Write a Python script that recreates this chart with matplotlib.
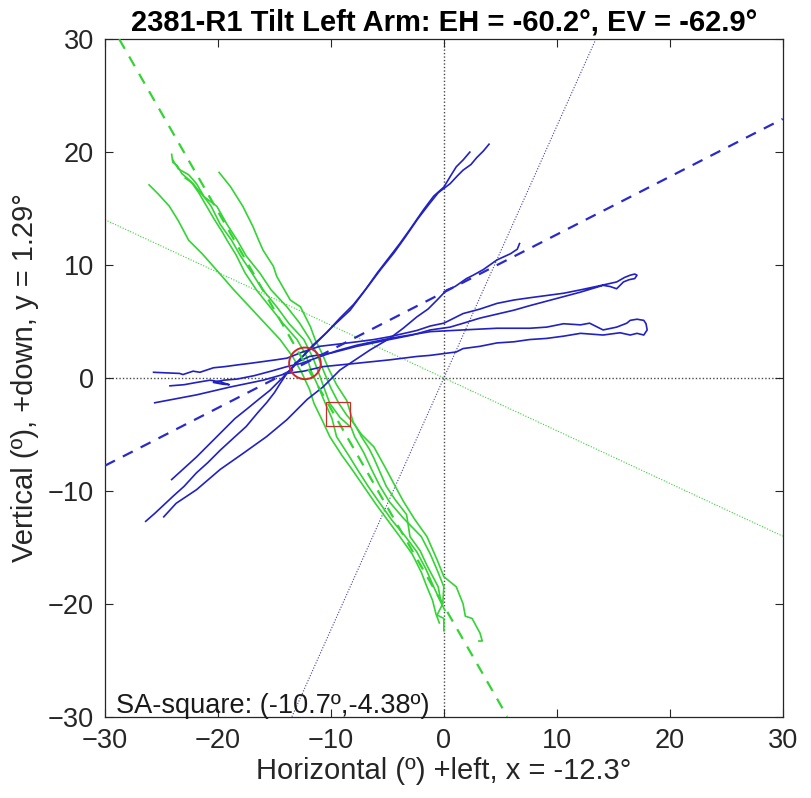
import matplotlib

matplotlib.use("Agg")
import matplotlib.pyplot as plt  # noqa: E402
import numpy as np  # noqa: E402
from matplotlib.patches import Circle, Rectangle  # noqa: E402

plt.rcParams["font.family"] = ["Liberation Sans", "DejaVu Sans"]

TITLE = "2381-R1 Tilt Left Arm: EH = -60.2°, EV = -62.9°"
XLABEL = "Horizontal (º) +left, x = -12.3°"
YLABEL = "Vertical (º), +down, y = 1.29°"
SA_TEXT = "SA-square: (-10.7º,-4.38º)"

# fit centre and fitted axes (deg)
CENTER = (-12.3, 1.29)
EH = -60.2
EV = -62.9
# reference (dotted) axes through the origin, slopes
GREEN_REF_SLOPE = -0.467
BLUE_REF_SLOPE = 2.23
SA_SQUARE = (-10.4, -4.25, 2.1)   # lower-left x, y, side
CIRCLE_R = 1.4

TICKS = [-30, -20, -10, 0, 10, 20, 30]

# --- green traces ---
g1 = [(-26.1, 17.1), (-25.3, 16.3), (-24.3, 15.2), (-23.5, 13.9), (-22.6, 12.2),
      (-21.4, 11.0), (-19.9, 9.3), (-18.6, 7.8), (-17.2, 6.3), (-15.9, 4.9),
      (-14.5, 3.4), (-13.4, 1.9), (-12.6, 0.5), (-11.9, -1.0), (-11.5, -2.25),
      (-10.7, -3.9), (-10.1, -5.2), (-9.0, -6.9), (-8.2, -8.0), (-7.1, -9.6),
      (-6.0, -11.2), (-4.9, -12.7), (-3.9, -14.05), (-2.8, -15.6), (-2.0, -17.2),
      (-1.5, -18.5), (-1.0, -19.7), (-0.7, -20.9), (-0.4, -21.7)]
g2 = [(-24.1, 19.8), (-24.0, 19.1), (-23.6, 18.8), (-23.2, 18.1), (-22.4, 17.4),
      (-21.7, 16.4), (-21.0, 15.2), (-20.3, 14.0), (-19.6, 12.9), (-19.2, 12.2),
      (-18.4, 10.9), (-17.6, 9.3), (-16.6, 7.8), (-15.4, 6.3), (-14.3, 4.9),
      (-13.0, 3.4), (-12.2, 2.0), (-11.7, 0.5), (-11.1, -0.8), (-10.5, -2.25),
      (-9.9, -3.6), (-9.5, -5.2), (-8.4, -6.9), (-7.6, -8.2), (-6.7, -9.6),
      (-5.8, -10.9), (-4.6, -12.6), (-3.4, -14.05), (-2.4, -15.4), (-1.6, -16.9),
      (-0.9, -18.5), (-0.3, -19.8), (0.1, -20.6)]
g3 = [(-24.0, 19.3), (-23.5, 18.5), (-22.6, 18.0), (-21.9, 17.2), (-21.2, 16.0),
      (-20.6, 15.2), (-19.8, 13.6), (-18.8, 12.2), (-18.0, 10.8), (-17.0, 9.3),
      (-16.1, 7.9), (-14.8, 6.3), (-13.7, 4.8), (-12.4, 3.4), (-11.6, 1.8),
      (-11.1, 0.5), (-10.6, -0.9), (-10.1, -2.25), (-9.2, -3.5), (-8.2, -4.4),
      (-7.9, -5.2), (-7.1, -6.6), (-6.4, -8.1), (-5.65, -9.6), (-4.8, -11.0),
      (-3.6, -12.4), (-2.0, -14.05), (-1.2, -15.6), (-0.6, -17.0), (0.0, -18.5),
      (-0.1, -20.0), (-0.6, -21.0), (0.0, -21.3), (0.0, -22.4)]
g4 = [(-22.9, 17.7), (-22.2, 17.2), (-21.3, 16.1), (-20.1, 15.2), (-19.2, 13.6),
      (-18.3, 12.2), (-17.5, 10.8), (-16.3, 9.3), (-15.3, 7.8), (-13.9, 6.3),
      (-12.8, 4.9), (-11.85, 3.4), (-11.2, 2.0), (-10.6, 0.5), (-10.0, -0.9),
      (-9.3, -2.25), (-8.6, -3.3), (-7.9, -4.1), (-7.3, -5.2), (-6.6, -6.3),
      (-6.2, -7.1), (-5.1, -9.6), (-4.3, -10.8), (-3.3, -12.1), (-3.0, -14.05),
      (-2.1, -15.3), (-1.5, -16.6), (-0.5, -18.5), (-0.3, -19.6)]
g5 = [(-19.9, 18.2), (-18.9, 16.95), (-17.8, 15.2), (-16.9, 13.4), (-16.4, 12.2),
      (-16.0, 11.3), (-15.1, 9.9), (-14.8, 9.0), (-13.6, 6.9), (-12.7, 6.3),
      (-11.8, 4.5), (-11.4, 3.4), (-10.8, 2.2), (-10.2, 0.8), (-9.5, -0.6),
      (-8.6, -2.0), (-8.0, -4.0), (-7.3, -5.0), (-6.2, -6.1), (-5.1, -8.1),
      (-4.3, -9.6), (-3.6, -10.9), (-2.6, -12.5), (-1.5, -14.05), (-0.6, -16.1),
      (0.0, -17.6), (1.1, -18.5), (1.7, -20.0), (1.9, -21.1), (2.5, -21.3),
      (3.2, -22.6), (3.4, -23.3), (3.1, -23.3)]
GREEN_TRACES = [g1, g2, g3, g4, g5]

# --- blue traces ---
b1 = [(-26.4, -12.7), (-25.6, -12.0), (-24.0, -10.5), (-23.0, -9.6), (-21.9, -8.4),
      (-20.9, -7.5), (-19.8, -6.4), (-18.6, -5.3), (-17.5, -4.3), (-16.5, -3.1),
      (-15.7, -2.2), (-15.0, -1.3), (-14.5, -0.5), (-13.9, 0.4), (-13.2, 1.2),
      (-12.4, 2.0), (-11.8, 2.6), (-10.9, 3.5), (-9.8, 4.6), (-8.3, 6.0),
      (-7.1, 7.6), (-5.9, 9.3), (-4.9, 10.6), (-3.9, 11.9), (-2.9, 13.3),
      (-1.8, 14.9), (-0.9, 16.1), (0.0, 16.9), (0.6, 17.9), (1.1, 18.7),
      (1.7, 19.3), (2.3, 20.0)]
b2 = [(-24.1, -9.0), (-23.0, -8.0), (-21.9, -7.0), (-20.7, -5.8), (-19.5, -4.6),
      (-18.5, -3.6), (-17.5, -2.8), (-16.4, -1.9), (-15.4, -1.1), (-14.2, 0.1),
      (-13.3, 1.0), (-12.5, 1.9), (-11.6, 2.9), (-10.4, 4.0), (-9.2, 5.3),
      (-8.0, 6.5), (-6.8, 8.0), (-5.6, 9.6), (-4.4, 11.1), (-3.4, 12.5),
      (-2.3, 14.1), (-1.3, 15.4), (-0.5, 16.4), (0.55, 17.2), (1.2, 17.9),
      (1.7, 18.4), (2.4, 18.9), (2.9, 19.5), (3.5, 20.1), (4.0, 20.7)]
b3 = [(-24.8, -12.3), (-23.7, -11.1), (-21.9, -9.9), (-19.8, -8.1), (-17.8, -6.7),
      (-15.7, -5.2), (-13.9, -3.7), (-12.1, -1.9), (-10.7, -0.8), (-9.2, 0.7),
      (-8.3, 1.3), (-6.5, 2.5), (-4.8, 3.5), (-3.6, 4.4), (-2.4, 5.4),
      (-1.4, 6.1), (-0.6, 6.9), (0.26, 7.8), (1.0, 8.1), (2.0, 8.8),
      (2.6, 9.1), (3.5, 9.6), (4.7, 10.45), (5.9, 11.0), (6.2, 11.2),
      (6.5, 11.4), (6.7, 11.9)]
b4 = [(-25.7, 0.5), (-24.6, 0.45), (-23.4, 0.4), (-23.1, 0.3), (-22.2, 0.6),
      (-21.6, 0.5), (-20.4, 0.9), (-19.4, 1.0), (-18.3, 1.15), (-17.1, 1.3),
      (-16.0, 1.45), (-14.9, 1.6), (-13.9, 1.75), (-12.5, 2.3), (-11.0, 2.8),
      (-9.3, 3.0), (-7.7, 3.2), (-6.2, 3.4), (-4.8, 3.65), (-2.4, 4.2),
      (-1.2, 4.6), (0.0, 4.85), (1.7, 5.7), (3.2, 6.1), (4.7, 6.6),
      (6.2, 6.9), (7.6, 7.1), (9.1, 7.3), (10.6, 7.5), (12.1, 7.8),
      (13.5, 8.1), (14.4, 8.3), (15.3, 8.5), (16.0, 8.9), (16.5, 9.1),
      (16.9, 9.2), (17.1, 9.1), (16.9, 8.8), (16.4, 8.7), (15.9, 8.5),
      (15.3, 7.9), (14.7, 8.1), (14.1, 8.2), (13.1, 7.9), (12.1, 7.6),
      (10.6, 7.2), (9.1, 6.8), (7.6, 6.4), (6.2, 6.0), (4.7, 5.65),
      (3.2, 5.3), (1.9, 4.9), (0.55, 4.5), (-1.2, 4.25), (-2.8, 3.8),
      (-4.8, 3.4), (-7.7, 2.8), (-10.0, 2.2), (-11.9, 1.9), (-13.2, 1.3)]
b5 = [(-24.25, -0.7), (-23.0, -0.6), (-21.9, -0.4), (-20.7, -0.2), (-19.8, -0.35),
      (-19.0, -0.6), (-19.6, -0.55), (-20.4, -0.4), (-19.5, -0.2), (-18.3, -0.1),
      (-16.8, 0.2), (-15.3, 0.6), (-13.9, 1.0), (-12.6, 1.3), (-11.2, 1.8),
      (-9.5, 2.4), (-7.7, 2.9), (-4.8, 3.5), (-2.4, 3.9), (-1.2, 4.1),
      (1.7, 4.25), (4.7, 4.4), (7.6, 4.4), (9.1, 4.5), (10.6, 4.8),
      (12.1, 4.7), (12.9, 4.85), (14.1, 4.25), (15.3, 4.5), (16.2, 4.85),
      (16.5, 5.1), (17.1, 5.2), (17.7, 5.1), (17.9, 4.8), (18.0, 4.25),
      (17.7, 3.8), (17.1, 3.95), (16.5, 3.8), (15.6, 4.0), (14.1, 3.8),
      (12.1, 3.95), (10.6, 3.7), (9.1, 3.5), (7.6, 3.4), (6.2, 3.2),
      (4.7, 3.1), (3.2, 2.8), (1.7, 2.6), (1.1, 2.3), (-1.2, 2.0),
      (-2.4, 1.9), (-4.8, 1.6), (-7.7, 1.3), (-10.7, 1.0), (-12.4, 0.6),
      (-13.9, 0.4), (-16.0, -0.2), (-18.9, -0.8), (-21.9, -1.5), (-25.6, -2.2)]
BLUE_TRACES = [b1, b2, b3, b4, b5]

GREEN = "#33d433"
BLUE = "#2121c4"
RED = "#cc2a2a"
GRID = "#4a4a4a"


def main() -> None:
    fig = plt.figure(figsize=(8.11, 7.98), dpi=100)
    ax = fig.add_axes([0.1295, 0.1019, 0.8356, 0.849])

    # zero lines
    ax.axhline(0, color=GRID, lw=1.0, ls=(0, (1, 1.5)), zorder=1)
    ax.axvline(0, color=GRID, lw=1.0, ls=(0, (1, 1.5)), zorder=1)

    # reference axes through the origin
    ax.axline((0, 0), slope=GREEN_REF_SLOPE, color=GREEN, lw=0.8,
              ls=(0, (1, 1.5)), zorder=1)
    ax.axline((0, 0), slope=BLUE_REF_SLOPE, color="#4040a0", lw=0.8,
              ls=(0, (1, 1.5)), zorder=1)

    for tr in GREEN_TRACES:
        xs, ys = zip(*tr)
        ax.plot(xs, ys, color=GREEN, lw=1.2, zorder=2)
    for tr in BLUE_TRACES:
        xs, ys = zip(*tr)
        ax.plot(xs, ys, color=BLUE, lw=1.2, zorder=3)

    # fitted axes through the centre
    ax.axline(CENTER, slope=np.tan(np.radians(EH)), color=GREEN, lw=1.6,
              ls=(0, (5, 4)), zorder=4)
    ax.axline(CENTER, slope=np.tan(np.radians(90 + EV)), color="#2a2acc",
              lw=1.6, ls=(0, (5, 4)), zorder=4)

    ax.add_patch(Circle(CENTER, CIRCLE_R, fill=False, ec=RED, lw=1.4, zorder=5))
    sx, sy, side = SA_SQUARE
    ax.add_patch(Rectangle((sx, sy), side, side, fill=False, ec=RED, lw=0.9,
                           zorder=5))

    ax.text(-29.0, -29.7, SA_TEXT, fontsize=19.5, color="#1a1a1a",
            ha="left", va="baseline", zorder=6)

    ax.set_xlim(-30, 30)
    ax.set_ylim(-30, 30)
    ax.set_xticks(TICKS)
    ax.set_yticks(TICKS)
    ax.tick_params(direction="in", top=True, right=True, length=6, width=0.8,
                   labelsize=19.5, colors="#262626", pad=8)
    for sp in ax.spines.values():
        sp.set_color("#262626")
        sp.set_linewidth(0.9)

    ax.set_title(TITLE, fontsize=21, fontweight="bold", pad=6)
    ax.set_xlabel(XLABEL, fontsize=21, color="#262626", labelpad=2)
    ax.set_ylabel(YLABEL, fontsize=21, color="#262626", labelpad=6)

    fig.savefig("out.png", dpi=100)


if __name__ == "__main__":
    main()
